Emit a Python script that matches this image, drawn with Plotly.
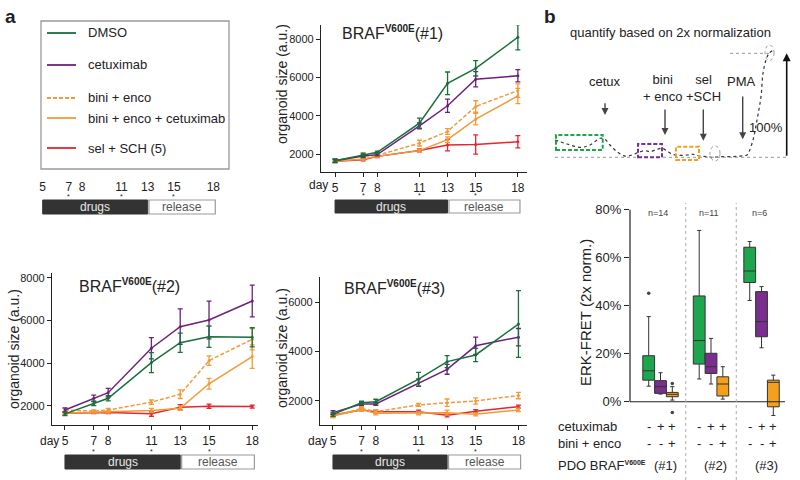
import plotly.graph_objects as go

W, H = 800, 480
FONT = "Liberation Sans, Arial, sans-serif"
INK = "#222222"

# ---- panel a: organoid growth ----
days = [5, 7, 8, 11, 13, 15, 18]
day_labels = ["5", "7", "8", "11", "13", "15", "18"]
star_days = [7, 11, 15]
drug_days = [5, 13]
release_days = [13.1, 18.15]

treatments = ["DMSO", "cetuximab", "bini + enco", "bini + enco + cetuximab", "sel + SCH (5)"]
line_colors = ["#17703c", "#6c2279", "#f29a3a", "#f29a3a", "#e3262f"]
line_dashes = ["solid", "solid", "4px,2px", "solid", "solid"]

# organoid #1
dmso_1 = [1650, 1950, 2090, 3610, 5690, 6470, 8090]
dmso_1_err = [100, 100, 60, 260, 590, 400, 660]
cetux_1 = [1650, 1900, 1970, 3470, 4520, 5900, 6080]
cetux_1_err = [80, 80, 60, 150, 350, 400, 320]
binienco_1 = [1650, 1900, 1930, 2570, 3180, 4480, 5310]
binienco_1_err = [80, 150, 80, 150, 150, 300, 350]
bec_1 = [1620, 1740, 1880, 2180, 2750, 3820, 5030]
bec_1_err = [60, 60, 60, 80, 150, 300, 400]
sel_1 = [1620, 1700, 1880, 2190, 2470, 2500, 2640]
sel_1_err = [60, 60, 60, 80, 300, 500, 320]

# organoid #2
dmso_2 = [1630, 2120, 2360, 4030, 4960, 5240, 5210]
dmso_2_err = [80, 100, 120, 470, 450, 500, 450]
cetux_2 = [1810, 2360, 2620, 4700, 5710, 6020, 6910]
cetux_2_err = [100, 150, 200, 500, 830, 880, 740]
binienco_2 = [1810, 1760, 1810, 2180, 2550, 4120, 5120]
binienco_2_err = [80, 60, 80, 100, 200, 220, 500]
bec_2 = [1660, 1730, 1730, 1790, 1890, 3040, 4310]
bec_2_err = [60, 60, 60, 100, 100, 250, 550]
sel_2 = [1660, 1690, 1690, 1640, 1940, 1990, 1970]
sel_2_err = [60, 50, 50, 120, 120, 100, 70]

# organoid #3
dmso_3 = [1460, 1930, 1970, 2880, 3590, 3860, 5110]
dmso_3_err = [80, 60, 100, 280, 240, 270, 1350]
cetux_3 = [1530, 1880, 1880, 2740, 3280, 4230, 4580]
cetux_3_err = [80, 60, 60, 150, 200, 350, 350]
binienco_3 = [1390, 1700, 1570, 1840, 1930, 2000, 2220]
binienco_3_err = [60, 80, 60, 60, 150, 130, 130]
bec_3 = [1390, 1660, 1500, 1500, 1530, 1460, 1640]
bec_3_err = [60, 80, 60, 60, 100, 60, 70]
sel_3 = [1430, 1640, 1570, 1570, 1420, 1590, 1770]
sel_3_err = [60, 60, 60, 60, 60, 60, 60]

# ---- panel b: ERK-FRET boxes (percent) ----
pct_ticks = [0, 20, 40, 60, 80]
pct_labels = ["0%", "20%", "40%", "60%", "80%"]
pdo_labels = ["(#1)", "(#2)", "(#3)"]
pdo_n = ["n=14", "n=11", "n=6"]
box_colors = ["#1ea64e", "#7a2e8e", "#f5a01c"]
cetux_signs = ["-", "+", "+"]
bini_signs = ["-", "-", "+"]
box_upper = [[35.5, 12.1, 6.3], [71.4, 26.4, 14.6], [66.8, 48.0, 11.1]]
box_q3 = [[19.2, 8.8, 3.9], [44.1, 20.2, 10.4], [64.4, 45.9, 9.0]]
box_med = [[12.9, 6.3, 3.1], [25.5, 14.6, 7.4], [54.5, 33.4, 8.1]]
box_q1 = [[9.0, 3.5, 2.1], [15.7, 11.8, 2.4], [49.7, 27.1, -2.1]]
box_lower = [[6.5, 3.2, 0.7], [9.5, 7.4, 1.1], [42.2, 22.5, -5.7]]
outlier_group = [0, 0, 0]
outlier_box = [0, 2, 2]
outlier_val = [45.2, 7.6, -4.5]

# schematic ERK-FRET trace (time a.u., % of 2x normalization)
schem_t = [0, 12, 25, 35, 45, 50, 55, 62, 70, 77, 83, 90, 95, 102, 107, 112, 117, 123,
           132, 138, 145, 153, 158, 165, 175, 185, 192, 194, 198, 202, 206, 208, 211, 214, 218]
schem_s = [16.6, 12.8, 9.6, 11.8, 18.3, 17.3, 11.8, 5.4, 1.2, 2.2, 4.5, 6.4, 5.4, 7.7, 8.7, 6.1,
           3.2, 1.9, 2.2, 2.9, 1.2, 0.6, 0, 0.6, 0.6, 1.2, 2.2, 5.4, 16.6, 35.9, 58.3, 80.8, 93.6, 100, 103]

GROUP_STEP = 4.28
SUP = "<sup><span style='font-size:{}px'><b>V600E</b></span></sup>"


def px(x):
    return x / W


def py(y):
    return 1 - y / H


fig = go.Figure()

organoids = [
    ("x", "y", [(dmso_1, dmso_1_err), (cetux_1, cetux_1_err), (binienco_1, binienco_1_err),
                (bec_1, bec_1_err), (sel_1, sel_1_err)]),
    ("x2", "y2", [(dmso_2, dmso_2_err), (cetux_2, cetux_2_err), (binienco_2, binienco_2_err),
                  (bec_2, bec_2_err), (sel_2, sel_2_err)]),
    ("x3", "y3", [(dmso_3, dmso_3_err), (cetux_3, cetux_3_err), (binienco_3, binienco_3_err),
                  (bec_3, bec_3_err), (sel_3, sel_3_err)]),
]
for xa, ya, series in organoids:
    for i in [4, 3, 2, 1, 0]:
        vals, err = series[i]
        fig.add_trace(go.Scatter(
            x=days, y=vals, mode="lines+markers", name=treatments[i],
            line=dict(color=line_colors[i], width=1.5, dash=line_dashes[i]),
            marker=dict(size=3, color=line_colors[i]),
            error_y=dict(type="data", array=err, color=line_colors[i], thickness=1.3, width=2.5),
            xaxis=xa, yaxis=ya, showlegend=False))

# boxes
for g in range(3):
    for k in range(3):
        fig.add_trace(go.Box(
            x=[g * GROUP_STEP + k], q1=[box_q1[g][k]], median=[box_med[g][k]], q3=[box_q3[g][k]],
            lowerfence=[box_lower[g][k]], upperfence=[box_upper[g][k]],
            width=1.0, whiskerwidth=0.35, fillcolor=box_colors[k],
            line=dict(color="#333333", width=1), boxpoints=False,
            xaxis="x4", yaxis="y4", showlegend=False))
fig.add_trace(go.Scatter(
    x=[g * GROUP_STEP + k for g, k in zip(outlier_group, outlier_box)], y=outlier_val,
    mode="markers", marker=dict(size=3.5, color="#444444"),
    xaxis="x4", yaxis="y4", showlegend=False))

# schematic trace
fig.add_trace(go.Scatter(
    x=schem_t, y=schem_s, mode="lines", line=dict(color="#333333", width=1.2, dash="dot", shape="spline"),
    xaxis="x5", yaxis="y5", showlegend=False))
fig.add_trace(go.Scatter(x=[], y=[], xaxis="x6", yaxis="y6", showlegend=False))

ax_x = dict(showline=True, linecolor=INK, linewidth=1.2, ticks="outside", ticklen=4, tickwidth=1.2,
            tickcolor=INK, showgrid=False, zeroline=False, tickvals=days, ticktext=day_labels,
            tickfont=dict(size=12, color=INK), fixedrange=True)
ax_y = dict(showline=True, linecolor=INK, linewidth=1.2, ticks="outside", ticklen=4, tickwidth=1.2,
            tickcolor=INK, showgrid=False, zeroline=False, tickfont=dict(size=11, color=INK),
            fixedrange=True)

fig.update_layout(
    width=W, height=H, margin=dict(l=0, r=0, t=0, b=0, autoexpand=False),
    paper_bgcolor="white", plot_bgcolor="rgba(0,0,0,0)",
    font=dict(family=FONT, color=INK), showlegend=False,
    xaxis=dict(domain=[px(321), px(527)], range=[4.0, 18.65], anchor="y", **ax_x),
    yaxis=dict(domain=[py(172), py(25)], range=[1065, 8730], anchor="x",
               tickvals=[2000, 4000, 6000, 8000], **ax_y),
    xaxis2=dict(domain=[px(52), px(258)], range=[4.1, 18.4], anchor="y2", **ax_x),
    yaxis2=dict(domain=[py(425), py(273)], range=[1110, 8220], anchor="x2",
                tickvals=[2000, 4000, 6000, 8000], **ax_y),
    xaxis3=dict(domain=[px(320), px(527)], range=[4.09, 18.6], anchor="y3", **ax_x),
    yaxis3=dict(domain=[py(425), py(277)], range=[1030, 7010], anchor="x3",
                tickvals=[2000, 4000, 6000], **ax_y),
    xaxis4=dict(domain=[px(630), px(785)], range=[-1.585, 11.55], anchor="y4", visible=False,
                fixedrange=True),
    yaxis4=dict(domain=[py(420), py(205)], range=[-7.6, 82], anchor="x4", showline=False,
                zeroline=False, showgrid=False, ticks="outside", ticklen=5, tickwidth=1.2,
                tickcolor=INK, tickvals=pct_ticks, ticktext=pct_labels,
                tickfont=dict(size=13, color=INK), fixedrange=True),
    xaxis5=dict(domain=[px(550), px(795)], range=[-5, 240], anchor="y5", visible=False,
                fixedrange=True),
    yaxis5=dict(domain=[py(165), py(45)], range=[-7.4, 108], anchor="x5", visible=False,
                fixedrange=True),
    xaxis6=dict(domain=[px(30), px(225)], range=[4.032, 18.89], anchor="y6", showline=False,
                ticks="outside", ticklen=4, tickcolor="rgba(0,0,0,0)", showgrid=False,
                zeroline=False, tickvals=days, ticktext=day_labels,
                tickfont=dict(size=12, color=INK), fixedrange=True),
    yaxis6=dict(domain=[py(172), py(170)], range=[0, 1], anchor="x6", visible=False,
                fixedrange=True),
)

shapes = []
ann = []


def text(x, y, s, size=12, xref="paper", yref="paper", **kw):
    kw.setdefault("xanchor", "center")
    kw.setdefault("yanchor", "middle")
    color = kw.pop("color", INK)
    ann.append(dict(x=x, y=y, xref=xref, yref=yref, text=s, showarrow=False,
                    font=dict(size=size, color=color, family=FONT), **kw))


# panel letters
text(px(10), py(17), "<b>a</b>", size=19)
text(px(550), py(17), "<b>b</b>", size=19)

# legend box
shapes.append(dict(type="rect", xref="paper", yref="paper", x0=px(41), x1=px(229),
                   y0=py(169), y1=py(21), line=dict(color="#9a9a9a", width=1.3)))
legend_y = [33, 65, 98, 118, 148]
for i, name in enumerate(treatments):
    shapes.append(dict(type="line", xref="paper", yref="paper", x0=px(47), x1=px(76),
                       y0=py(legend_y[i]), y1=py(legend_y[i]),
                       line=dict(color=line_colors[i], width=1.8, dash=line_dashes[i])))
    text(px(86), py(legend_y[i]), name, size=13, xanchor="left")

# drugs / release bars, stars, day labels
timeline = [("x6", 200, 214, 186, None), ("x", 200, 213, 185, 330),
            ("x2", 455, 469, 441, 61), ("x3", 455, 469, 441, 329)]
for xa, top, bot, lab_y, day_x in timeline:
    shapes.append(dict(type="rect", xref=xa, yref="paper", x0=drug_days[0], x1=drug_days[1],
                       y0=py(bot), y1=py(top), fillcolor="#333333", line=dict(color="#333333", width=1)))
    shapes.append(dict(type="rect", xref=xa, yref="paper", x0=release_days[0], x1=release_days[1],
                       y0=py(bot), y1=py(top), fillcolor="white", line=dict(color="#9a9a9a", width=1.2)))
    text(sum(drug_days) / 2, py((top + bot) / 2), "drugs", size=12, xref=xa, color="#e8e8e8")
    text(sum(release_days) / 2, py((top + bot) / 2), "release", size=12, xref=xa, color="#555555")
    for d in star_days:
        text(d, py(lab_y + 10), "*", size=7, xref=xa)
    if day_x is not None:
        text(px(day_x), py(lab_y), "day", size=12, xanchor="right")

# titles and y titles of growth panels
text(px(340), py(33), "BRAF" + SUP.format(10) + "(#1)", size=16, xanchor="left")
text(px(77), py(285), "BRAF" + SUP.format(10) + "(#2)", size=16, xanchor="left")
text(px(342), py(287), "BRAF" + SUP.format(10) + "(#3)", size=16, xanchor="left")
text(px(282), py(84), "organoid size (a.u.)", size=14, textangle=-90)
text(px(14), py(349), "organoid size (a.u.)", size=14, textangle=-90)
text(px(282), py(348), "organoid size (a.u.)", size=14, textangle=-90)

# box panel decorations
shapes.append(dict(type="line", xref="x4 domain", yref="y4", x0=0, x1=0, y0=0, y1=80,
                   line=dict(color=INK, width=1.2)))
shapes.append(dict(type="line", xref="x4 domain", yref="y4", x0=0, x1=1, y0=0, y1=0,
                   line=dict(color=INK, width=1.2)))
for g in [1, 2]:
    shapes.append(dict(type="line", xref="x4", yref="paper", x0=g * GROUP_STEP - 1.14,
                       x1=g * GROUP_STEP - 1.14, y0=0, y1=py(203),
                       line=dict(color="#aaaaaa", width=1, dash="dot")))
text(px(585), py(313), "ERK-FRET (2x norm.)", size=15, textangle=-90)
text(px(556), py(426), "cetuximab", size=13, xanchor="left")
text(px(556), py(443), "bini + enco", size=13, xanchor="left")
text(px(556), py(465), "PDO BRAF" + SUP.format(7), size=13, xanchor="left")
for g in range(3):
    text(g * GROUP_STEP + 0.8, py(213), pdo_n[g], size=9, xref="x4", color="#444444")
    text(g * GROUP_STEP + 1.4, py(465), pdo_labels[g], size=13, xref="x4")
    for k in range(3):
        text(g * GROUP_STEP + k, py(426), cetux_signs[k], size=13, xref="x4")
        text(g * GROUP_STEP + k, py(443), bini_signs[k], size=13, xref="x4")

# schematic decorations
text(px(670), py(33), "quantify based on 2x normalization", size=13)
shapes.append(dict(type="line", xref="x5", yref="y5", x0=0, x1=232, y0=0, y1=0,
                   line=dict(color="#999999", width=1, dash="dot")))
shapes.append(dict(type="line", xref="x5", yref="y5", x0=175, x1=216, y0=100, y1=100,
                   line=dict(color="#999999", width=1, dash="dot")))
for (t0, t1, s0, s1), c in zip([(1, 47.7, 7.0, 21.4), (83, 107, 0, 12.8), (121, 144, -2.6, 10.2)],
                               box_colors):
    shapes.append(dict(type="rect", xref="x5", yref="y5", x0=t0, x1=t1, y0=s0, y1=s1,
                       line=dict(color=c, width=2, dash="4px,2px")))
for t0, t1, s0, s1 in [(155, 165, -3.4, 11), (210, 219, 93, 108)]:
    shapes.append(dict(type="circle", xref="x5", yref="y5", x0=t0, x1=t1, y0=s0, y1=s1,
                       line=dict(color="#999999", width=1, dash="dot")))

stim_labels = ["cetux", "bini<br>+ enco", "sel<br>+SCH", "PMA"]
stim_text_t = [50, 107, 148.3, 186.7]
stim_text_s = [72.7, 66.4, 66.4, 72.7]
stim_t = [50, 110, 148.3, 187.7]
stim_tail = [53.5, 47.4, 47.4, 59.9]
stim_head = [40.7, 21.4, 16.0, 17.3]
for i, lab in enumerate(stim_labels):
    text(stim_text_t[i], stim_text_s[i], lab, size=13, xref="x5", yref="y5")
    ann.append(dict(x=stim_t[i], y=stim_head[i], ax=stim_t[i], ay=stim_tail[i], xref="x5", yref="y5",
                    axref="x5", ayref="y5", text="", showarrow=True, arrowhead=2, arrowsize=1,
                    arrowwidth=1.4, arrowcolor="#444444"))
ann.append(dict(x=231.7, y=100, ax=231.7, ay=0, xref="x5", yref="y5", axref="x5", ayref="y5",
                text="", showarrow=True, arrowhead=2, arrowsize=1, arrowwidth=1.6, arrowcolor="#111111"))
text(px(785), py(127), "100%", size=13, xanchor="right")

fig.update_layout(shapes=shapes, annotations=ann)
# drop the browser's default 8px body margin so the figure fills the window
fig.write_html("out.html", config={"displayModeBar": False},
               post_script="document.body.style.margin = '0';")
